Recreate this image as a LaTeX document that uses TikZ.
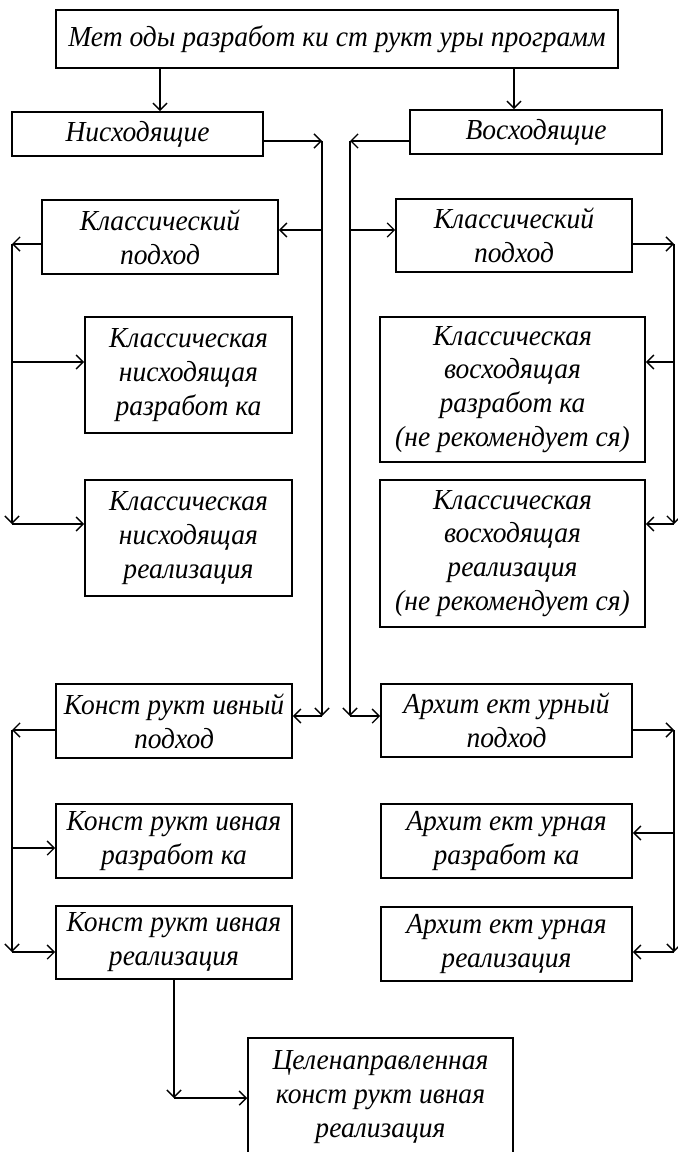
\documentclass[tikz,border=0pt]{standalone}
\usepackage{fontspec}
\setmainfont{Liberation Serif}[FakeStretch=0.95]
\usetikzlibrary{arrows.meta}

\tikzset{
  box/.style={draw, line width=0.9pt, align=center, inner sep=0pt,
    font=\fontsize{16.5}{19.3}\selectfont\itshape},
  conn/.style={line width=0.8pt, -{Straight Barb[length=4pt,width=8pt]}},
}

\begin{document}
\begin{tikzpicture}[x=0.02cm, y=-0.02cm]
        \useasboundingbox (0,0) rectangle (678,1152);
        %\draw (0,0) rectangle (678,1152);

        % top
        \node[box, minimum width=11.24cm, minimum height=1.16cm] (metody) at (337,39) {Мет оды разработ ки ст рукт уры программ};
        \node[box, minimum width=5.02cm, minimum height=0.88cm] (nis) at (137.5,134) {Нисходящие};
        \node[box, minimum width=5.04cm, minimum height=0.88cm] (vos) at (536,132) {Восходящие};

        % classic
        \node[box, minimum width=4.72cm, minimum height=1.48cm] (klassL) at (160,237) {Классический\\подход};
        \node[box, minimum width=4.72cm, minimum height=1.46cm] (klassR) at (514,235.5) {Классический\\подход};
        \node[box, minimum width=4.14cm, minimum height=2.32cm] (knr) at (188.5,375) {Классическая\\нисходящая\\разработ ка};
        \node[box, minimum width=4.14cm, minimum height=2.32cm] (knre) at (188.5,538) {Классическая\\нисходящая\\реализация};
        \node[box, minimum width=5.3cm, minimum height=2.9cm] (kvr) at (512.5,389.5) {Классическая\\восходящая\\разработ ка\\(не рекомендует ся)};
        \node[box, minimum width=5.3cm, minimum height=2.94cm] (kvre) at (512.5,553.5) {Классическая\\восходящая\\реализация\\(не рекомендует ся)};

        % constructive / architectural
        \node[box, minimum width=4.72cm, minimum height=1.48cm] (konsP) at (174,721) {Конст рукт ивный\\подход};
        \node[box, minimum width=4.72cm, minimum height=1.48cm] (konsR) at (174,841) {Конст рукт ивная\\разработ ка};
        \node[box, minimum width=4.72cm, minimum height=1.46cm] (konsE) at (174,942.5) {Конст рукт ивная\\реализация};
        \node[box, minimum width=5.02cm, minimum height=1.46cm] (arhP) at (506.5,720.5) {Архит ект урный\\подход};
        \node[box, minimum width=5.02cm, minimum height=1.48cm] (arhR) at (506.5,841) {Архит ект урная\\разработ ка};
        \node[box, minimum width=5.02cm, minimum height=1.48cm] (arhE) at (506.5,944) {Архит ект урная\\реализация};
        \node[box, minimum width=5.3cm, minimum height=2.36cm] (cel) at (380.5,1097) {Целенаправленная\\конст рукт ивная\\реализация};

        % junctions
        \coordinate (tl) at (160,0);
        \coordinate (tr) at (514,0);
        \coordinate (nisA) at (322,141);
        \coordinate (nisK) at (322,230);
        \coordinate (nisB) at (322,716);
        \coordinate (vosA) at (350,141);
        \coordinate (vosK) at (350,230);
        \coordinate (vosB) at (350,716);
        \coordinate (busLa) at (12,244);
        \coordinate (busLr) at (12,362);
        \coordinate (busLb) at (12,524);
        \coordinate (busRa) at (674,244);
        \coordinate (busRr) at (674,362);
        \coordinate (busRb) at (674,524);
        \coordinate (busKa) at (12,730);
        \coordinate (busKr) at (12,848);
        \coordinate (busKb) at (12,952);
        \coordinate (busAa) at (674,730);
        \coordinate (busAr) at (674,833);
        \coordinate (busAb) at (674,952);
        \coordinate (celA) at (174,1098);

        \draw[conn] (metody.south -| tl) -- (nis.north -| tl);
        \draw[conn] (metody.south -| tr) -- (vos.north -| tr);

        \draw[conn] (nis.east |- nisA) -- (nisA);
        \draw[conn] (nisA) -- (nisB);
        \draw[conn] (nisK) -- (klassL.east |- nisK);
        \draw[conn] (nisB) -- (konsP.east |- nisB);

        \draw[conn] (vos.west |- vosA) -- (vosA);
        \draw[conn] (vosA) -- (vosB);
        \draw[conn] (vosK) -- (klassR.west |- vosK);
        \draw[conn] (vosB) -- (arhP.west |- vosB);

        \draw[conn] (klassL.west |- busLa) -- (busLa);
        \draw[conn] (busLa) -- (busLb);
        \draw[conn] (busLr) -- (knr.west |- busLr);
        \draw[conn] (busLb) -- (knre.west |- busLb);

        \draw[conn] (klassR.east |- busRa) -- (busRa);
        \draw[conn] (busRa) -- (busRb);
        \draw[conn] (busRr) -- (kvr.east |- busRr);
        \draw[conn] (busRb) -- (kvre.east |- busRb);

        \draw[conn] (konsP.west |- busKa) -- (busKa);
        \draw[conn] (busKa) -- (busKb);
        \draw[conn] (busKr) -- (konsR.west |- busKr);
        \draw[conn] (busKb) -- (konsE.west |- busKb);

        \draw[conn] (arhP.east |- busAa) -- (busAa);
        \draw[conn] (busAa) -- (busAb);
        \draw[conn] (busAr) -- (arhR.east |- busAr);
        \draw[conn] (busAb) -- (arhE.east |- busAb);

        \draw[conn] (konsE.south -| celA) -- (celA);
        \draw[conn] (celA) -- (cel.west |- celA);
\end{tikzpicture}
\end{document}
